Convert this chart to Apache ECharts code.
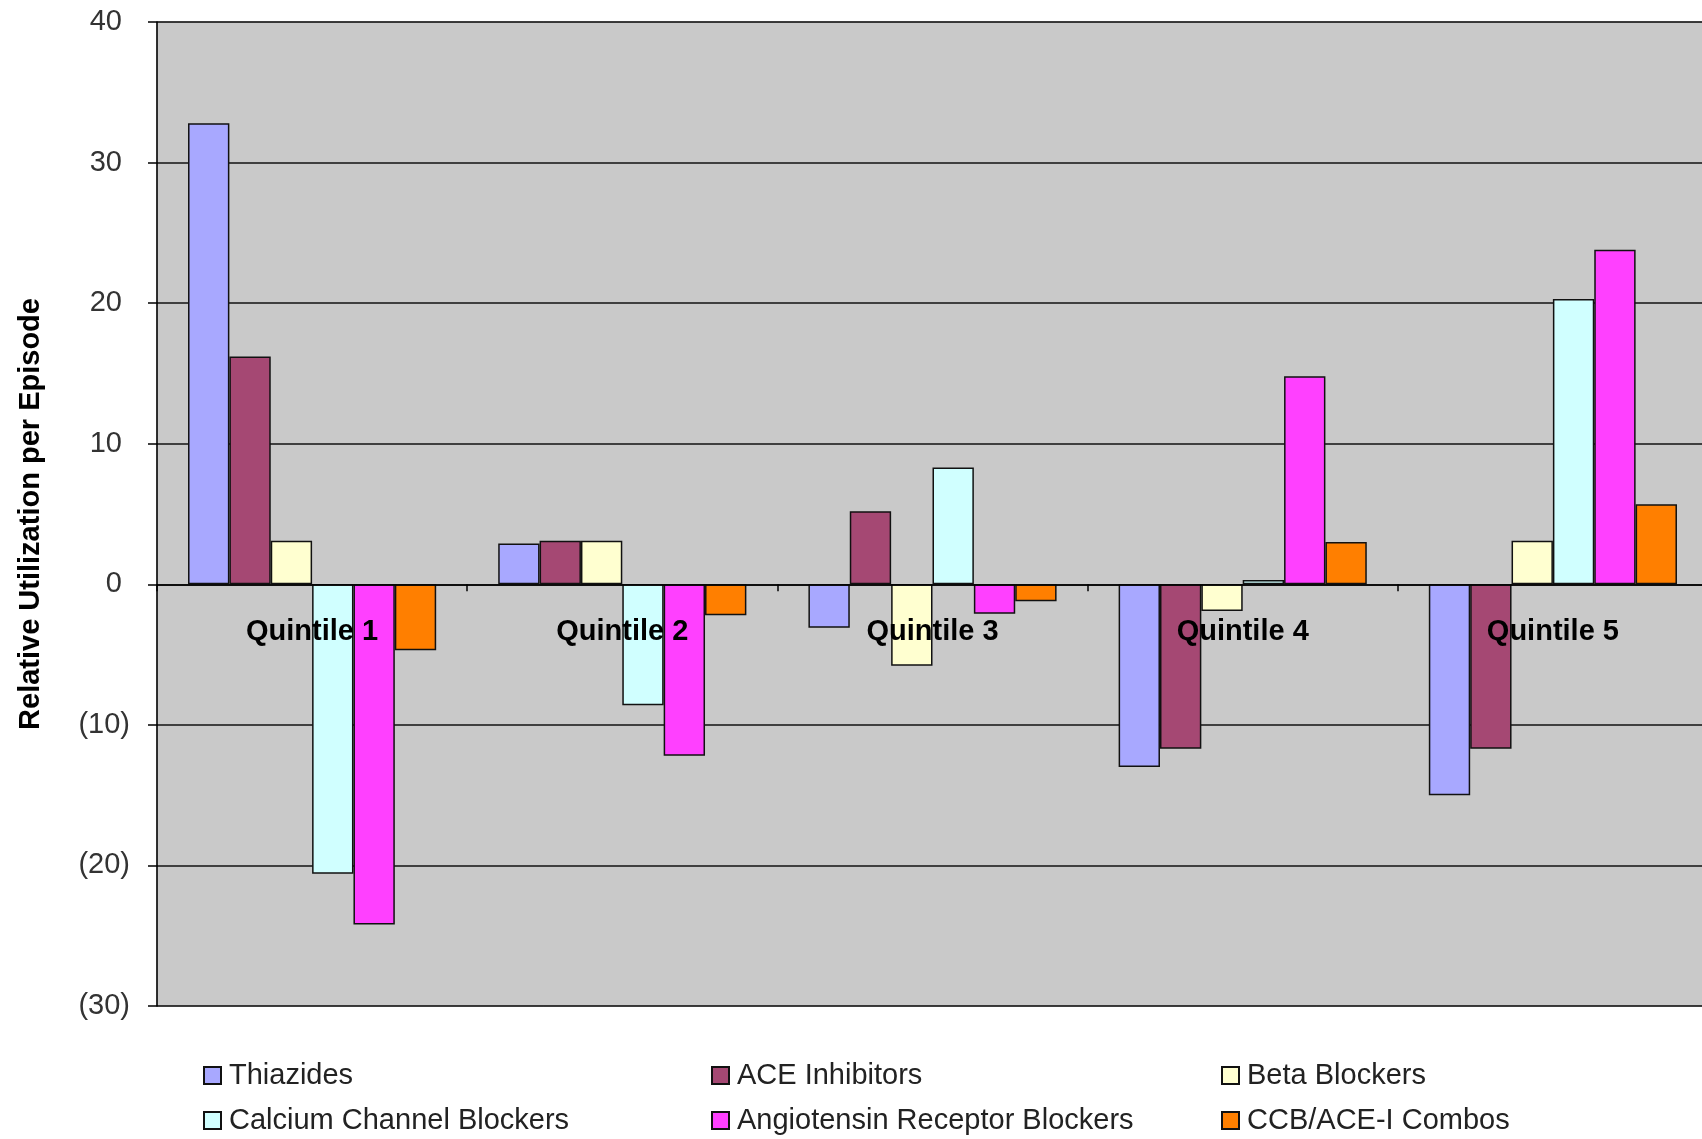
<!DOCTYPE html>
<html>
<head>
<meta charset="utf-8">
<script src="https://cdn.jsdelivr.net/npm/echarts@6/dist/echarts.min.js"></script>
<style>
  html, body { margin: 0; padding: 0; background: #fff; }
  #chart { width: 1702px; height: 1139px; }
</style>
</head>
<body>
<div id="chart"></div>
<script>
const quintiles = ['Quintile 1', 'Quintile 2', 'Quintile 3', 'Quintile 4', 'Quintile 5']
const drugNames = ['Thiazides', 'ACE Inhibitors', 'Beta Blockers',
  'Calcium Channel Blockers', 'Angiotensin Receptor Blockers', 'CCB/ACE-I Combos']
const thiazides = [32.8, 2.9, -3.1, -13.0, -15.0]
const aceInhibitors = [16.2, 3.1, 5.2, -11.7, -11.7]
const betaBlockers = [3.1, 3.1, -5.8, -1.9, 3.1]
const calciumChannel = [-20.6, -8.6, 8.3, 0.3, 20.3]
const angiotensin = [-24.2, -12.2, -2.1, 14.8, 23.8]
const ccbAceCombos = [-4.7, -2.2, -1.2, 3.0, 5.7]
const yTicks = { min: -30, max: 40, step: 10 }

const seriesValues = [thiazides, aceInhibitors, betaBlockers, calciumChannel, angiotensin, ccbAceCombos]
const colors = ['#a8a8ff', '#a54873', '#ffffd0', '#d0ffff', '#ff40ff', '#ff7f00']

const chartIns = echarts.init(document.getElementById('chart'))

// legend laid out as 3 columns x 2 rows
const legendCols = [203, 711, 1221]
const legendRows = [1061, 1106]
const legends = drugNames.map((name, i) => ({
  data: [name],
  left: legendCols[i % 3],
  top: legendRows[Math.floor(i / 3)],
  padding: 0,
  icon: 'rect',
  itemWidth: 17,
  itemHeight: 17,
  itemGap: 8,
  textStyle: { fontFamily: 'Liberation Sans', fontSize: 29, color: '#222', padding: [0, 0, 0, 3] }
}))

const option = {
  backgroundColor: '#fff',
  animation: false,
  color: colors,
  legend: legends,
  grid: {
    left: 157,
    top: 22,
    bottom: 133,
    right: -6,
    outerBoundsMode: 'none',
    show: true,
    backgroundColor: '#c9c9c9',
    borderColor: '#888',
    borderWidth: 1
  },
  xAxis: {
    type: 'category',
    data: quintiles,
    z: 5,
    axisLine: { onZero: true, lineStyle: { color: '#000', width: 1.5 } },
    axisTick: { show: true, length: 7, lineStyle: { color: '#000', width: 1.5 } },
    axisLabel: {
      // labels sit just under the zero line, not at the grid bottom
      margin: -389,
      fontFamily: 'Liberation Sans',
      fontSize: 29,
      fontWeight: 'bold',
      color: '#000'
    },
    splitLine: { show: false }
  },
  yAxis: {
    type: 'value',
    min: yTicks.min,
    max: yTicks.max,
    interval: yTicks.step,
    name: 'Relative Utilization per Episode',
    nameLocation: 'middle',
    nameGap: 112,
    nameTextStyle: { fontFamily: 'Liberation Sans', fontSize: 29, fontWeight: 'bold', color: '#000' },
    axisLine: { show: true, lineStyle: { color: '#000', width: 1.5 } },
    axisTick: { show: true, length: 9, lineStyle: { color: '#000', width: 1.5 } },
    axisLabel: {
      margin: 27,
      fontFamily: 'Liberation Sans',
      fontSize: 29,
      color: '#333',
      formatter: v => v < 0 ? '(' + (-v) + ')' : v + ' '
    },
    splitLine: { show: true, lineStyle: { color: '#111', width: 1.5 } }
  },
  series: drugNames.map((name, i) => ({
    name: name,
    type: 'bar',
    data: seriesValues[i],
    barGap: '0%',
    barCategoryGap: '20%',
    itemStyle: { color: colors[i], borderColor: '#111', borderWidth: 1.5 }
  }))
}

chartIns.setOption(option)
</script>
</body>
</html>
